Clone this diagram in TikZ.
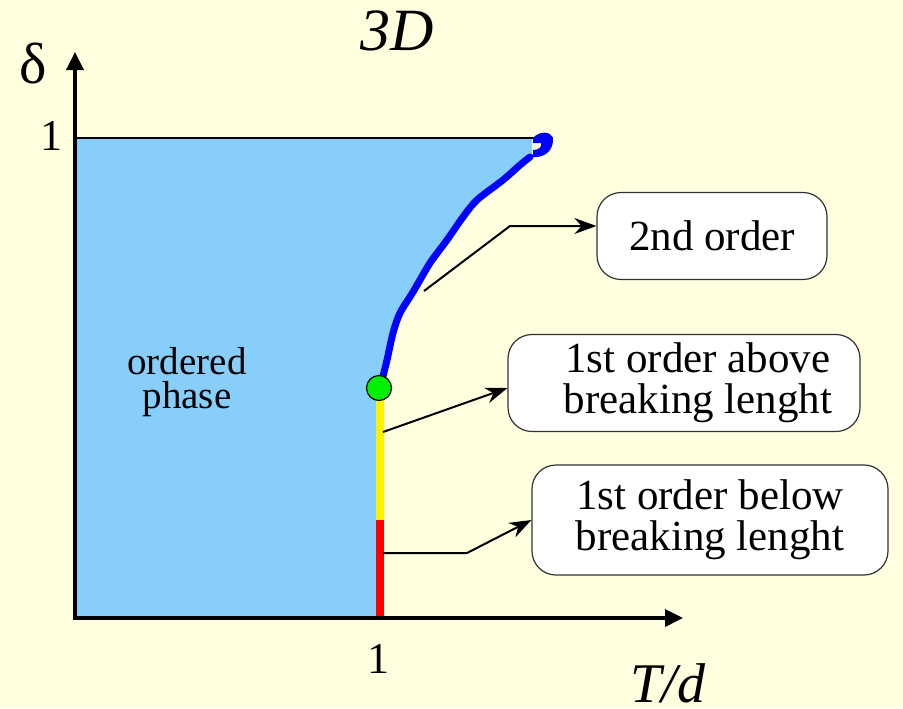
\documentclass[tikz,border=0pt]{standalone}
\usepackage{fontspec}
\setmainfont{Liberation Serif}
\usetikzlibrary{arrows.meta}

\definecolor{paper}{RGB}{255,255,224}
\definecolor{phasefill}{RGB}{135,206,250}
\definecolor{lineblue}{RGB}{0,0,255}
\definecolor{dotgreen}{RGB}{0,240,0}

\begin{document}
\begin{tikzpicture}[x=0.5pt, y=-0.5pt,
  lbl/.style={inner sep=0pt, anchor=base},
  infobox/.style={draw=black!80, line width=0.6pt, fill=white, rounded corners=12pt,
    align=center, inner sep=0pt, font=\fontsize{21.5}{20.5}\selectfont},
  pointer/.style={line width=1pt, -{Stealth[length=11pt, width=8pt]}},
  axis/.style={line width=1.75pt, -{Triangle[length=9pt, width=8.5pt]}}]

  % page
  \fill[paper] (0,0) rectangle (903,708);
  \useasboundingbox (0,0) rectangle (903,708);

  % ordered region
  \fill[phasefill] (75,618) -- (75,138) -- (532,138) -- (532,157)
    -- plot[smooth] coordinates {(532,157) (520,165) (503,180) (477,200) (463,217)
       (447,240) (430,263) (413,292) (400,313) (393,333) (387,360) (381,384)}
    -- (380,618) -- cycle;
  \draw[line width=0.75pt] (75,138) -- (553,138);

  % 2nd order line
  \draw[lineblue, line width=3.5pt, line cap=round] plot[smooth] coordinates {(530,157)
    (520,165) (503,180) (477,200) (463,217) (447,240) (430,263) (413,292) (400,313)
    (393,333) (387,360) (381,384)};
  \fill[lineblue] (533,138) .. controls (539,131) and (552,130) .. (553,140)
    .. controls (553,151) and (544,158) .. (533,157) -- (533,150)
    .. controls (539,150) and (542,147) .. (541,143) -- (533,143) -- cycle;

  % 1st order lines
  \draw[yellow, line width=4pt] (380,398) -- (380,520);
  \draw[red, line width=4pt] (380,520) -- (380,618);

  % axes
  \draw[axis] (75,620) -- (75,52);
  \draw[axis] (73,618) -- (683,618);

  % tricritical point
  \node[circle, draw, line width=0.6pt, fill=dotgreen, minimum size=12.5pt, inner sep=0pt]
    (tcp) at (379,388) {};

  % boxes
  \node[infobox, minimum width=115pt, minimum height=43.5pt] (second) at (712,236) {2nd order};
  \node[infobox, minimum width=176pt, minimum height=48.5pt] (above) at (684,383)
    {\hspace*{14pt}1st order above\\\hspace*{14pt}breaking lenght};
  \node[infobox, minimum width=178pt, minimum height=55pt] (below) at (710,520)
    {1st order below\\breaking lenght};

  % connectors
  \coordinate (onblue) at (424,291);
  \coordinate (bend2) at (510,226);
  \draw[pointer] (onblue) -- (bend2) -- (bend2 -| second.west);
  \coordinate (onyellow) at (383,432);
  \draw[pointer] (onyellow) -- ([yshift=-2.5pt]above.west);
  \coordinate (onred) at (383,553);
  \coordinate (bend1) at (467,553);
  \draw[pointer] (onred) -- (bend1) -- (below.west);

  % labels
  \node[lbl, font=\fontsize{30}{30}\selectfont\itshape] (title) at (397,50) {3D};
  \node[lbl, font=\fontsize{29}{29}\selectfont] (ylab) at (33,83) {δ};
  \node[lbl, font=\fontsize{28}{28}\selectfont\itshape] (xlab) at (668,702) {T/d};
  \node[lbl, font=\fontsize{22}{22}\selectfont] (yone) at (51,150) {1};
  \node[lbl, font=\fontsize{22}{22}\selectfont] (xone) at (378,673) {1};
  \node[align=center, inner sep=0pt, font=\fontsize{19.5}{17}\selectfont] (phase) at (187,382)
    {ordered\\phase};
\end{tikzpicture}
\end{document}
